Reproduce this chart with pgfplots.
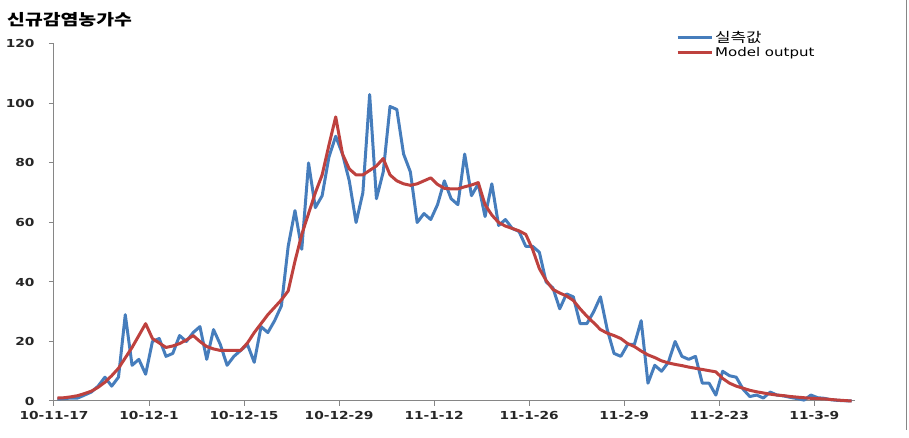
\documentclass[border=0pt]{standalone}
\usepackage{fontspec}
\setmainfont{DejaVu Sans}[FakeStretch=1.25]
\newfontfamily\kr{Noto Sans CJK KR}[FakeStretch=1.25]
\usepackage{pgfplots}
\usepackage{pgfplotstable}
\pgfplotsset{compat=1.18}
\definecolor{obsblue}{RGB}{70,125,188}
\definecolor{modred}{RGB}{190,65,62}
\definecolor{axgray}{RGB}{134,134,134}
\pgfplotstableread{
d obs model
0 0.7 1
1 0.8 1.1
2 1 1.4
3 1 1.8
4 2 2.5
5 3 3.3
6 5 4.6
7 8 6.3
8 5 8.5
9 8 11
10 29 14.5
11 12 18
12 14 22
13 9 26
14 20 21
15 21 19.5
16 15 18
17 16 18.5
18 22 19.3
19 20 20.5
20 23 22
21 25 20
22 14 18.3
23 24 17.5
24 19 17
25 12 17
26 15 17
27 17 17
28 19 19.5
29 13 23
30 25 26
31 23 29
32 27 31.5
33 32 34
34 52 37
35 64 47
36 51 56
37 80 63
38 65 70
39 69 76
40 82 86
41 89 95.5
42 83 83
43 74 78
44 60 76
45 70 76
46 103 77.5
47 68 79
48 77 81.5
49 99 76
50 98 74
51 83 73
52 77 72.5
53 60 73
54 63 74
55 61 75
56 66 72.8
57 74 71.5
58 68 71.3
59 66 71.3
60 83 72
61 69 72.6
62 73 73.4
63 62 66
64 73 62.5
65 59 60
66 61 58.8
67 58 58
68 57 57.2
69 52 56
70 52 51
71 50 44.5
72 40 40.5
73 38 37.5
74 31 36.3
75 36 35.3
76 35 33.8
77 26 31
78 26 28.5
79 30 26.3
80 35 24
81 24 22.8
82 16 22
83 15 21
84 19 19.3
85 19 18.3
86 27 16.8
87 6 15.5
88 12 14.6
89 10 13.5
90 13 12.8
91 20 12.3
92 15 11.9
93 14 11.4
94 15 11
95 6 10.6
96 6 10.2
97 2 9.8
98 10 7.6
99 8.5 6
100 8 5
101 4 4.3
102 1.5 3.6
103 2 3.1
104 1 2.7
105 3 2.3
106 2 2
107 1.7 1.8
108 1.2 1.5
109 0.8 1.3
110 0.3 1.1
111 2 0.9
112 1.1 0.8
113 0.9 0.7
114 0.4 0.5
115 0.2 0.3
116 0.1 0.15
117 0 0
}\datatable
\begin{document}
\begin{tikzpicture}
\begin{axis}[
  scale only axis,
  width=801pt, height=357pt,
  xmin=-0.5, xmax=117.5,
  ymin=0, ymax=120,
  axis lines=left,
  axis line style={-, draw=axgray, line width=1pt},
  tick align=outside,
  major tick length=5pt,
  tick style={draw=axgray, line width=1pt},
  xtick={-0.5,13.5,27.5,41.5,55.5,69.5,83.5,97.5,111.5},
  xticklabels={10-11-17,10-12-1,10-12-15,10-12-29,11-1-12,11-1-26,11-2-9,11-2-23,11-3-9},
  ytick={0,20,40,60,80,100,120},
  /pgf/number format/assume math mode=true,
  ticklabel style={font=\fontsize{11}{13}\selectfont\bfseries, text=black!85},
  yticklabel style={xshift=-11pt},
  xticklabel style={yshift=-2pt},
  legend style={at={(0.7765,1.042)}, anchor=north west, draw=none, fill=none,
    inner sep=0pt, row sep=-1pt, font=\fontsize{12}{14}\selectfont},
  legend cell align=left,
  legend image code/.code={\draw[#1] (0pt,0pt) -- (34pt,0pt);},
  clip=false,
]
\addplot[color=obsblue, line width=3pt, line join=round] table[x=d, y=obs] {\datatable};
\addlegendentry{{\kr\fontsize{13.5}{14}\selectfont 실측값}}
\addplot[color=modred, line width=3pt, line join=round] table[x=d, y=model] {\datatable};
\addlegendentry{Model output}
\end{axis}
\node[anchor=west, inner sep=0pt] at (-47pt,381pt) {\kr\bfseries\fontsize{15.5}{17}\selectfont 신규감염농가수};
\draw[axgray, line width=1pt] (852pt,-29pt) -- (852pt,401pt);
\pgfresetboundingbox
\path (-54pt,-37pt) rectangle (855pt,401pt);
\end{tikzpicture}
\end{document}
